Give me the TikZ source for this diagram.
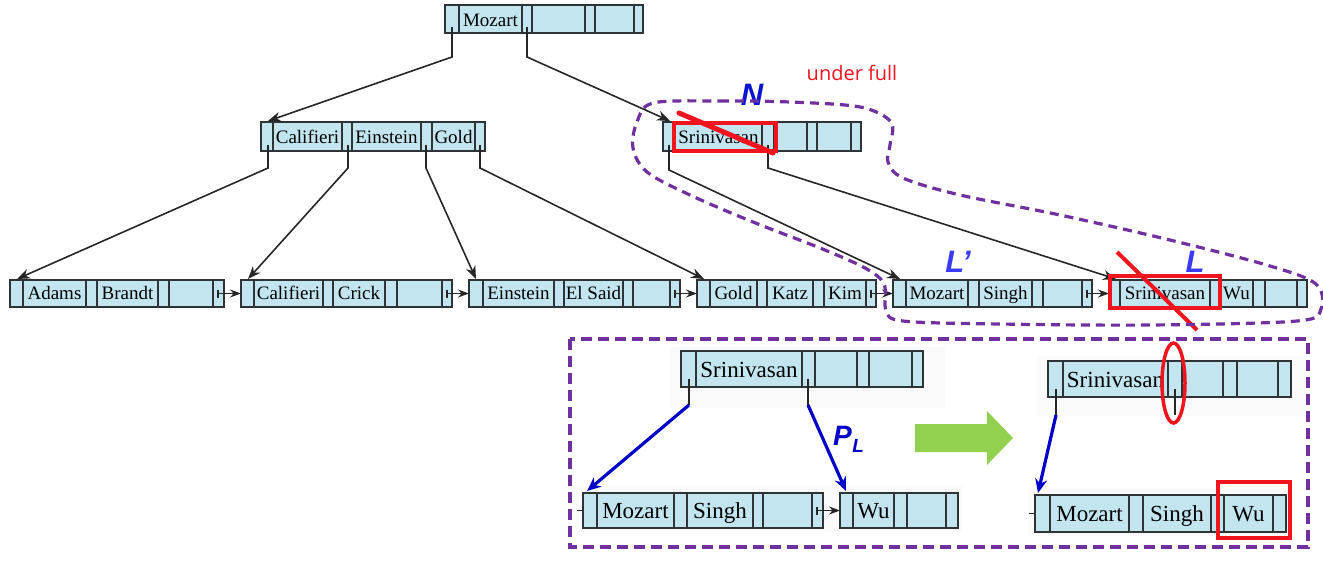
\documentclass[tikz,border=0pt]{standalone}
\usepackage{fontspec}
\usetikzlibrary{arrows.meta}
\setmainfont{Liberation Serif}
\newfontfamily\labelfont{Liberation Sans}
\newfontfamily\notefont{Open Sans}
\definecolor{cellfill}{HTML}{C2E5F0}
\definecolor{cellline}{HTML}{2E3436}
\definecolor{blobpurple}{HTML}{7030A0}
\definecolor{markred}{HTML}{F0141E}
\definecolor{labblue}{HTML}{0A14D2}
\definecolor{labbluetwo}{HTML}{3A3AF5}
\definecolor{arrblue}{HTML}{0000C8}
\definecolor{arrgreen}{HTML}{92D050}
\tikzset{
  cellbox/.style={draw=cellline, fill=cellfill, line width=1.4pt, inner sep=0pt, outer sep=0pt, anchor=north west},
  divline/.style={draw=cellline, line width=1.2pt},
  keytext/.style={inner sep=0pt, anchor=base, font=\fontsize{19}{21}\selectfont},
  keybig/.style={inner sep=0pt, anchor=base, font=\fontsize{23}{25}\selectfont},
  ptr/.style={draw=black!85, line width=1.6pt, -{Stealth[length=13pt,width=10pt]}},
  ptrshort/.style={draw=black!85, line width=1.4pt, -{Stealth[length=11pt,width=8pt]}},
  ptrline/.style={draw=black!85, line width=1.4pt},
  bluearrow/.style={draw=arrblue, line width=3.2pt, -{Stealth[length=14pt,width=12pt]}},
  biglabel/.style={inner sep=0pt, anchor=base, font=\labelfont\bfseries\itshape\fontsize{31}{31}\selectfont},
  blobline/.style={draw=blobpurple, line width=3.2pt, dash pattern=on 9pt off 6pt}
}
\newcommand{\bbox}[6]{%
  \node[cellbox, minimum width={(#4-#2)*1pt}, minimum height={(#5-#3)*1pt}] (#1) at (#2,#3) {};
  \foreach \dv in {#6} {\draw[divline] (\dv,#3) -- (\dv,#5);}
  \draw[draw=cellline, line width=1.4pt] (#1.north west) rectangle (#1.south east);
}
\newcommand{\bkey}[5]{\node[#1] (#2) at (#3,#4) {#5};}
\begin{document}
\begin{tikzpicture}[x=1pt,y=-1pt]
\useasboundingbox (0,0) rectangle (1323,566);
% pasted image backgrounds
\fill[black!2] (670,347) rectangle (945,408);
\fill[black!2] (576,486) rectangle (962,532);
\fill[black!2] (1037,356) rectangle (1306,416);
\fill[black!2] (1028,488) rectangle (1292,536);

% ---------- upper tree ----------
\bbox{root}{445}{5}{643}{33}{459,522,532,585,595,634}
\bkey{keytext}{rootka}{490.5}{26}{Mozart}
\coordinate (rootpa) at (452,27);
\coordinate (rootpb) at (527,27);

\bbox{nca}{261}{122}{485}{151}{273,342,352,421,432,475}
\bkey{keytext}{ncaka}{307.5}{143}{Califieri}
\bkey{keytext}{ncakb}{386.5}{143}{Einstein}
\bkey{keytext}{ncakc}{453.5}{143}{Gold}
\coordinate (ncapa) at (268,145);
\coordinate (ncapb) at (348,145);
\coordinate (ncapc) at (426,145);
\coordinate (ncapd) at (480,145);

\bbox{ncb}{663}{122}{861}{151}{675,762,774,807,817,851}
\bkey{keytext}{ncbka}{718.5}{143}{Srinivasan}
\coordinate (ncbpa) at (669,145);
\coordinate (ncbpb) at (768,145);

\bbox{lfa}{10}{280}{224}{307}{23,86,97,158,169,213}
\bkey{keytext}{lfaka}{54.5}{299.5}{Adams}
\bkey{keytext}{lfakb}{127.5}{299.5}{Brandt}
\bbox{lfb}{241}{280}{452}{307}{254,323,333,385,397,442}
\bkey{keytext}{lfbka}{288.5}{299.5}{Califieri}
\bkey{keytext}{lfbkb}{359}{299.5}{Crick}
\bbox{lfc}{469}{280}{680}{307}{483,554,564,623,633,670}
\bkey{keytext}{lfcka}{518.5}{299.5}{Einstein}
\bkey{keytext}{lfckb}{593.5}{299.5}{El Said}
\bbox{lfd}{697}{280}{876}{307}{710,757,767,813,824,866}
\bkey{keytext}{lfdka}{733.5}{299.5}{Gold}
\bkey{keytext}{lfdkb}{790}{299.5}{Katz}
\bkey{keytext}{lfdkc}{845}{299.5}{Kim}
\bbox{lfe}{893}{280}{1092}{307}{906,968,979,1032,1043,1082}
\bkey{keytext}{lfeka}{937}{299.5}{Mozart}
\bkey{keytext}{lfekb}{1005.5}{299.5}{Singh}
\bbox{lff}{1109}{280}{1307}{307}{1120,1210,1220,1253,1265,1297}
\bkey{keytext}{lffka}{1165}{299.5}{Srinivasan}
\bkey{keytext}{lffkb}{1236.5}{299.5}{Wu}

% arrow targets
\foreach \n in {nca,ncb,lfa,lfb,lfc,lfd,lfe,lff}
  {\coordinate (\n in) at ([xshift=7pt,yshift=1pt]\n.north west);}

% parent -> child pointers
\draw[ptr] (rootpa) -- ++(0,30) -- (ncain);
\draw[ptr] (rootpb) -- ++(0,30) -- (ncbin);
\draw[ptr] (ncapa) -- ++(0,23) -- (lfain);
\draw[ptr] (ncapb) -- ++(0,23) -- (lfbin);
\draw[ptr] (ncapc) -- ++(0,23) -- (lfcin);
\draw[ptr] (ncapd) -- ++(0,23) -- (lfdin);
\draw[ptr] (ncbpa) -- ++(0,25) -- (lfein);
\draw[ptr] (ncbpb) -- ++(0,23) -- (lffin);

% sibling pointers
\foreach \a/\b/\x in {lfa/lfb/218, lfb/lfc/447, lfc/lfd/675, lfd/lfe/871, lfe/lff/1087}{
  \coordinate (\a nx) at (\x,293.5);
  \draw[ptrline] (\x,289.5) -- (\x,297.5);
  \draw[ptrshort] (\a nx) -- (\b.west);
}

% ---------- lower box ----------
\bbox{bln}{681}{351}{923}{387}{696,802,815,857,869,912}
\bkey{keybig}{blnka}{749}{377}{Srinivasan}
\coordinate (blnpa) at (689,405);
\coordinate (blnpb) at (808,405);
\draw[ptrline] (689,379) -- (blnpa);
\draw[ptrline] (808,379) -- (blnpb);

\bbox{blla}{583}{493}{823}{528}{597,674,687,753,763,812}
\bkey{keybig}{bllaka}{635.5}{518.5}{Mozart}
\bkey{keybig}{bllakb}{720}{518.5}{Singh}
\bbox{bllb}{840}{493}{958}{528}{853,894,907,946}
\bkey{keybig}{bllbka}{873.5}{518.5}{Wu}
\coordinate (bllanx) at (817,510.5);
\draw[ptrline] (817,506.5) -- (817,514.5);
\draw[ptrshort] (bllanx) -- (bllb.west);
\draw[ptrline] (577,510.5) -- (blla.west);

\coordinate (bllain) at ([xshift=4pt,yshift=2pt]blla.north west);
\coordinate (bllbin) at ([xshift=6pt,yshift=2pt]bllb.north west);
\draw[bluearrow] (blnpa) -- (bllain);
\draw[bluearrow] (blnpb) -- (bllbin);

\node[inner sep=0pt, anchor=base west, text=arrblue,
      font=\labelfont\bfseries\itshape\fontsize{28}{28}\selectfont] (labPL) at (833,445)
      {P\kern0.5pt\raisebox{-7pt}{\fontsize{19}{19}\selectfont L}};

\fill[arrgreen] (915,424) -- (987,424) -- (987,411) -- (1013,438) -- (987,465) -- (987,452) -- (915,452) -- cycle;

\bbox{brn}{1048}{361}{1291}{397}{1063,1168,1182,1223,1237,1278}
\bkey{keybig}{brnka}{1115.5}{387}{Srinivasan}
\coordinate (brnpa) at (1056,415);
\draw[ptrline] (1056,389) -- (brnpa);
\draw[ptrline] (1175,389) -- (1175,415);

\bbox{brl}{1035}{495}{1286}{532}{1050,1129,1143,1211,1224,1273}
\bkey{keybig}{brlka}{1089.5}{521.5}{Mozart}
\bkey{keybig}{brlkb}{1177}{521.5}{Singh}
\bkey{keybig}{brlkc}{1248.5}{521.5}{Wu}
\draw[ptrline] (1029,513.5) -- (brl.west);
\coordinate (brlin) at ([xshift=3pt,yshift=2pt]brl.north west);
\draw[bluearrow] (brnpa) -- (brlin);

% ---------- red annotations ----------
\draw[markred, line width=3.5pt] (674,123) rectangle (776,151);
\draw[markred, line width=5pt, line cap=round] (679,113) -- (773,153);
\draw[markred, line width=4.5pt] (1110,276) rectangle (1220,308);
\draw[markred, line width=4pt] (1117,252) -- (1197,330);
\draw[markred, line width=3.5pt] (1173.5,383) ellipse [x radius=11.5, y radius=40];
\draw[markred, line width=4.5pt] (1218,482) rectangle (1290,538);

\node[inner sep=0pt, anchor=base, text=markred, font=\notefont\fontsize{20}{20}\selectfont] (underfull) at (852,80) {under full};

% ---------- labels ----------
\node[biglabel, text=labblue] (labN) at (752,105) {N};
\node[biglabel, text=labbluetwo] (labLp) at (958,272) {L’};
\node[biglabel, text=labbluetwo] (labL) at (1195,272) {L};

% ---------- dashed outlines ----------
\draw[blobline] plot[smooth cycle, tension=0.55] coordinates {
 (653,103) (720,101) (790,102) (860,107) (891,122) (890,145) (888,162) (903,178)
 (960,195) (1060,215) (1170,240) (1270,266) (1316,284) (1321,309) (1297,321)
 (1150,325) (1000,324) (903,321) (886,310) (884,284) (865,268) (820,248)
 (753,222) (690,195) (647,172) (633,148) (637,122)};
\draw[draw=blobpurple, line width=3.5pt, dash pattern=on 11pt off 6pt] (570,339) rectangle (1308,547);
\end{tikzpicture}
\end{document}
